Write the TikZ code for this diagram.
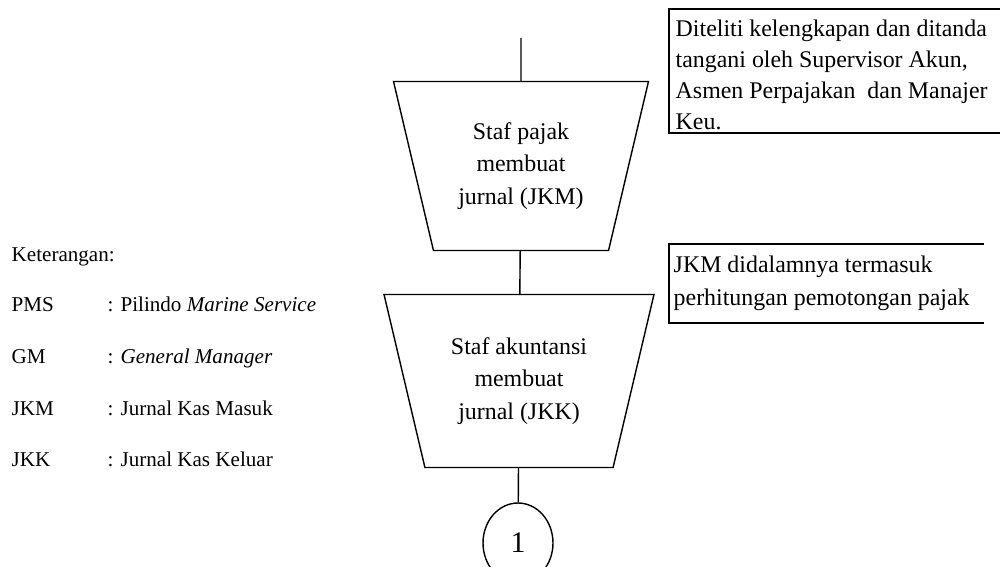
\documentclass[tikz,border=0pt]{standalone}
\usepackage{fontspec}
\setmainfont{Liberation Serif}
\usetikzlibrary{shapes.geometric,positioning}

\tikzstyle{proses}=[draw,shape=trapezium,shape border rotate=180,trapezium left angle=76.7,trapezium right angle=76.7,trapezium stretches body=true,inner sep=0pt,font=\fontsize{13.6}{18.6}\selectfont]
\tikzstyle{catatan}=[inner sep=0pt,anchor=north west,align=left,font=\fontsize{13.6}{17.6}\selectfont]
\tikzstyle{kurung}=[line width=1.2pt]
\tikzstyle{ket}=[inner sep=0pt,anchor=base west,font=\fontsize{12}{14}\selectfont]
\newcommand{\langkah}[5]{\node[proses,minimum width=#3] (#1) at #2 {\parbox[c][#4][c]{3cm}{\centering #5}};}
\newcommand{\ketbaris}[4]{\node[ket] (#1) at (11,#2) {#3}; \node[ket] (#1d) at (107,#2) {: #4};}

\begin{document}
\begin{tikzpicture}[x=0.02cm,y=-0.02cm,line width=0.8pt]
    \useasboundingbox (0,0) rectangle (1000,567);
    % alur proses
    \coordinate (awal) at (521,38);
    \langkah{pajak}{(521,166)}{5.1cm}{3.38cm}{Staf pajak\\membuat\\jurnal (JKM)}
    \langkah{akun}{(519,381)}{5.4cm}{3.46cm}{Staf akuntansi\\membuat\\jurnal (JKK)}
    \node[draw,ellipse,minimum width=1.4cm,minimum height=1.6cm,inner sep=0pt,font=\fontsize{17}{20}\selectfont] (hal1) at (518,543) {1};
    
    \draw (awal) -- (pajak);
    \draw (pajak) -- (akun);
    \draw (akun) -- (hal1);
    
    % catatan
    \node[catatan] (cat1) at (675,19) {Diteliti kelengkapan dan ditanda\\tangani oleh Supervisor Akun,\\Asmen Perpajakan~ dan Manajer\\Keu.};
    \draw[kurung] (1000,9) -| (669,133) -- (1000,133);
    \node[catatan,font=\fontsize{13.6}{18.8}\selectfont] (cat2) at (673,255) {JKM didalamnya termasuk\\perhitungan pemotongan pajak};
    \draw[kurung] (984,244) -| (669,323) -- (984,323);
    
    % keterangan
    \node[ket] (keterangan) at (11,262) {Keterangan:};
    \ketbaris{pms}{312}{PMS}{Pilindo \textit{Marine Service}}
    \ketbaris{gm}{363}{GM}{\textit{General Manager}}
    \ketbaris{jkm}{415}{JKM}{Jurnal Kas Masuk}
    \ketbaris{jkk}{466}{JKK}{Jurnal Kas Keluar}
\end{tikzpicture}
\end{document}
